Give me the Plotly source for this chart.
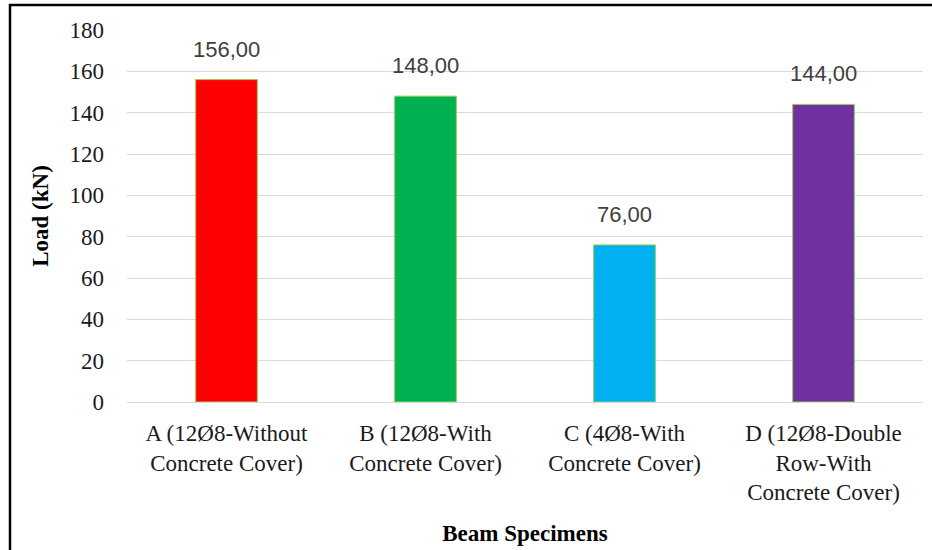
import plotly.graph_objects as go

categories = [
    "A (12Ø8-Without<br>Concrete Cover)",
    "B (12Ø8-With<br>Concrete Cover)",
    "C (4Ø8-With<br>Concrete Cover)",
    "D (12Ø8-Double<br>Row-With<br>Concrete Cover)",
]
loads = [156.00, 148.00, 76.00, 144.00]
bar_colors = ["#FF0000", "#00B050", "#00B0F0", "#7030A0"]
y_ticks = [0, 20, 40, 60, 80, 100, 120, 140, 160, 180]

FONT = "Liberation Serif, Times New Roman, serif"
LABEL_FONT = "Liberation Sans, Arial, sans-serif"
FS = 23

fig = go.Figure()
fig.add_trace(go.Bar(
    x=categories,
    y=loads,
    marker=dict(color=bar_colors, line=dict(color="#92D050", width=1)),
    width=0.31,
    showlegend=False,
))

for c, v in zip(categories, loads):
    fig.add_annotation(
        x=c, y=v, text=f"{v:.2f}".replace(".", ","),
        showarrow=False, yanchor="bottom", yshift=16,
        font=dict(family=LABEL_FONT, size=22, color="#404040"),
    )

L, R, T, B = 127, 9, 30, 148
W, H = 932, 550
pw, ph = W - L - R, H - T - B

fig.add_shape(
    type="rect", xref="paper", yref="paper",
    x0=(10 - L) / pw, x1=(W + 20 - L) / pw,
    y0=-(H + 20 - T - ph) / ph, y1=1 + (T - 5) / ph,
    line=dict(color="black", width=2.5), fillcolor="rgba(0,0,0,0)",
    layer="above",
)

fig.update_layout(
    width=W, height=H,
    margin=dict(l=L, r=R, t=T, b=B),
    paper_bgcolor="white", plot_bgcolor="white",
    font=dict(family=FONT, size=FS, color="#1a1a1a"),
    xaxis=dict(
        showgrid=False, showline=True, linecolor="#D9D9D9", linewidth=1,
        ticks="", ticklabelstandoff=10, tickfont=dict(size=FS, color="#1a1a1a"),
        title=dict(text="<b>Beam Specimens</b>", font=dict(size=FS, color="black"), standoff=20),
    ),
    yaxis=dict(
        range=[0, 180], tickvals=y_ticks, showgrid=True, gridcolor="#D9D9D9", gridwidth=1,
        zeroline=False, showline=False, ticks="", ticklabelstandoff=22,
        tickfont=dict(size=FS, color="#1a1a1a"),
        title=dict(text="<b>Load (kN)</b>", font=dict(size=FS, color="black"), standoff=14),
    ),
)

fig.write_html(
    "out.html",
    config={"displayModeBar": False},
    post_script="document.body.style.margin='0';document.body.style.overflow='hidden';",
)
